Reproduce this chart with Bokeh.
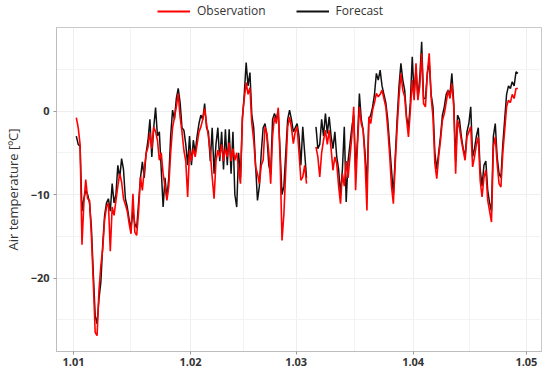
import numpy as np
from bokeh.plotting import figure
from bokeh.layouts import column
from bokeh.models import Range1d, FixedTicker, Legend, LegendItem, ColumnDataSource
from bokeh.embed import file_html
from bokeh.resources import INLINE

nan = float("nan")

# time axis: days since 1 January, one value every 12 hours
start_day = 0.75
step_day = 0.5

observation = [
    -0.8, -2.0, -4.0, -16.0, -11.0, -8.2, -10.5, -10.7, -15.0, -20.5,
    -26.5, -26.9, -21.5, -18.5, -16.5, -13.0, -11.5, -11.0, -16.8, -11.5,
    -12.5, -10.7, -9.0, -7.5, -8.5, -10.5, -11.2, -12.0, -13.5, -14.7,
    -9.9, -14.5, -14.9, -12.0, -7.9, -9.5, -7.0, -5.1, -4.3, -2.6,
    -4.5, -1.9, -2.5, -3.5, -5.9, -5.0, -7.5, -9.0, -10.7, -9.0,
    -5.0, -2.0, -0.8, 0.5, 2.1, -0.7, -2.5, -4.7, -6.0, -10.3,
    -4.7, -6.0, -4.5, -5.5, -4.0, -2.5, -1.9, -1.0, 0.3, -1.5,
    -3.1, -5.0, -7.9, -10.5, -6.0, -4.7, -5.5, -4.0, -6.0, -4.5,
    -5.5, -3.8, -6.0, -4.5, -5.9, -5.0, -7.0, -8.7, -0.7, 1.5,
    3.4, 2.0, 2.8, -1.5, -3.5, -6.7, -7.5, -8.7, -6.5, -5.9,
    -1.9, -2.7, -5.0, -8.7, -3.0, -0.7, -1.5, 0.4, -5.9, -15.5,
    -12.3, -7.0, -1.9, -0.7, -2.0, -3.9, -2.5, -1.9, -5.0, -8.3,
    -7.9, -6.5, -8.7, nan, nan, nan, nan, -4.3, -5.5, -7.9,
    -5.0, -3.5, -2.3, -4.0, -2.3, -4.5, -7.1, -5.5, -6.3, -9.0,
    -11.1, -7.5, -9.0, -6.0, -8.0, -5.5, -3.0, 0.5, -9.5, -4.0,
    0.5, -1.5, -2.3, -6.0, -11.9, -0.7, -1.5, 0.1, 1.0, 2.1,
    1.7, 2.0, 2.5, 1.5, 0.5, -2.0, -5.1, -9.0, -11.1, -6.3,
    -2.0, 1.7, 4.5, 2.5, 1.7, -1.0, -3.1, 0.1, 3.7, 1.3,
    5.7, 1.3, 3.0, 6.9, 0.9, 0.5, 4.5, 6.9, 1.7, -0.7,
    -6.3, -8.1, -5.5, -3.5, -1.1, -0.3, 1.0, 2.5, 1.5, 3.3,
    0.5, -7.5, -1.1, -2.0, -3.5, -4.7, -5.9, -3.1, -2.5, -1.9,
    -6.7, -5.5, -4.0, -3.1, -8.3, -10.3, -8.0, -7.1, -10.7, -12.0,
    -13.3, -4.3, -3.1, -6.3, -8.7, -9.1, -5.0, -2.3, 0.5, 1.3,
    1.0, 2.0, 1.5, 2.7, 2.7,
]

forecast = [
    -3.0, -4.0, -4.2, -12.0, -10.5, -9.5, -10.0, -11.0, -14.0, -19.5,
    -24.5, -25.5, -22.5, -20.5, -16.0, -12.5, -11.0, -10.5, -12.0, -8.7,
    -11.0, -10.0, -6.5, -8.0, -5.7, -7.0, -10.5, -11.5, -13.0, -14.0,
    -12.0, -13.5, -14.0, -11.0, -8.0, -6.1, -8.0, -5.0, -3.5, -1.0,
    -5.5, -2.0, 0.4, -3.0, -2.5, -7.0, -11.5, -8.0, -10.5, -8.0,
    -3.0, 0.1, -1.0, 1.5, 2.7, 1.0, -2.0, -2.3, -4.0, -6.5,
    -3.0, -6.5, -3.5, -5.0, -3.0, -1.5, -0.5, -1.0, 0.9, -2.0,
    -2.5, -6.0, -2.0, -7.5, -4.0, -2.0, -6.0, -2.5, -7.0, -2.2,
    -6.5, -2.2, -7.5, -2.5, -10.0, -11.5, -5.0, -8.0, -1.0, 2.0,
    5.8, 3.0, 4.6, -0.5, -2.0, -6.5, -10.7, -9.0, -5.0, -2.0,
    -1.5, -3.0, -6.5, -7.5, -1.0, -0.3, -1.0, 0.1, -5.0, -10.0,
    -9.0, -5.0, -1.0, 0.1, -1.0, -2.5, -2.0, -1.5, -3.0, -6.5,
    -1.9, -5.0, -8.0, nan, nan, nan, nan, -1.9, -4.5, -4.0,
    -1.0, -3.0, -0.3, -2.7, -0.7, -3.0, -4.5, -2.5, -5.5, -7.0,
    -10.0, -7.0, -1.9, -10.9, -6.0, -4.0, -2.0, -0.5, -7.0, -3.5,
    2.1, -1.0, -2.3, -5.0, -9.0, -1.0, -0.5, 0.5, 2.0, 4.5,
    3.7, 4.9, 3.0, 2.0, 1.0, -1.0, -4.0, -7.0, -10.0, -5.5,
    -1.0, 3.0, 5.7, 3.7, 2.5, -0.7, -2.0, 1.0, 6.5, 2.0,
    5.0, 1.5, 4.0, 8.3, 1.5, 1.5, 4.5, 6.0, 2.0, 0.5,
    -5.0, -7.0, -5.0, -3.0, -0.5, 0.5, 2.0, 2.5, 2.0, 4.5,
    1.0, -6.0, -0.5, -1.0, -3.0, -4.5, -5.5, -2.5, -1.5, 0.5,
    -5.5, -4.5, -3.0, -2.0, -7.0, -9.0, -6.5, -6.0, -9.5, -11.0,
    -12.0, -3.0, -1.5, -5.5, -7.5, -8.0, -4.0, -1.0, 2.0, 3.0,
    2.7, 3.5, 3.0, 4.7, 4.5,
]

series_names = ["Observation", "Forecast"]
series_colors = ["#ff0000", "#111111"]

tick_days = [0, 31, 59, 90, 120]
tick_labels = ["1.01", "1.02", "1.03", "1.04", "1.05"]
mid_month_days = [15, 45, 74.5, 105]
y_ticks = [-20, -10, 0]
y_minor = [-25, -15, -5, 5]

days = np.array([start_day + step_day * i for i in range(len(observation))])
src = ColumnDataSource(dict(day=days,
                            obs=np.array(observation, dtype=float),
                            fc=np.array(forecast, dtype=float)))

FONT = "Open Sans"
W = 542

# ---- legend strip (its renderers sit outside the strip's visible range) ---
lg = figure(width=W, height=20, output_backend="svg", toolbar_location=None,
            x_axis_type=None, y_axis_type=None,
            x_range=Range1d(1000, 1001), y_range=Range1d(1000, 1001))
lg.min_border = 0
lg.outline_line_color = None
lg.grid.visible = False
lg_r = [lg.line("day", col, source=src, line_color=c, line_width=2)
        for col, c in zip(["obs", "fc"], series_colors)]
legend = Legend(items=[LegendItem(label=n, renderers=[r])
                       for n, r in zip(series_names, lg_r)],
                orientation="horizontal", location=(101, 1))
legend.label_text_font = FONT
legend.label_text_font_size = "12px"
legend.label_text_color = "#333333"
legend.glyph_width = 33
legend.glyph_height = 14
legend.label_height = 14
legend.label_standoff = 7
legend.spacing = 30
legend.padding = 1
legend.margin = 0
legend.border_line_color = None
legend.background_fill_alpha = 0
lg.add_layout(legend, "center")

# ---- main chart ---------------------------------------------------------
p = figure(width=W, height=348, output_backend="svg", toolbar_location=None,
           x_range=Range1d(-4.5, 124.0), y_range=Range1d(-28.8, 10.0))
p.min_border_left = 42
p.min_border_right = 1
p.min_border_top = 7
p.min_border_bottom = 0
p.background_fill_color = "white"
p.border_fill_color = "white"
p.outline_line_color = "#c8c8c8"

p.line("day", "fc", source=src, line_color=series_colors[1], line_width=1.5)
p.line("day", "obs", source=src, line_color=series_colors[0], line_width=1.6)

p.xaxis.ticker = FixedTicker(ticks=tick_days, minor_ticks=mid_month_days)
p.xaxis.major_label_overrides = {d: l for d, l in zip(tick_days, tick_labels)}
p.yaxis.ticker = FixedTicker(ticks=y_ticks, minor_ticks=y_minor)

for ax in (p.xaxis[0], p.yaxis[0]):
    ax.axis_line_color = "#bdbdbd"
    ax.major_tick_line_color = "#9a9a9a"
    ax.major_tick_out = 3
    ax.major_tick_in = 0
    ax.minor_tick_line_color = None
    ax.major_label_text_font = FONT
    ax.major_label_text_font_size = "11px"
    ax.major_label_text_color = "#333333"
    ax.major_label_text_font_style = "bold"
    ax.major_label_standoff = 3
p.xaxis.major_label_standoff = 2

p.yaxis.axis_label = "Air temperature [ºC]"
p.yaxis.axis_label_text_font = FONT
p.yaxis.axis_label_text_font_size = "13px"
p.yaxis.axis_label_text_font_style = "normal"
p.yaxis.axis_label_text_color = "#333333"
p.yaxis.axis_label_standoff = 6

for g in (p.xgrid[0], p.ygrid[0]):
    g.grid_line_color = "#efefef"
    g.minor_grid_line_color = "#f3f3f3"

layout = column(lg, p, spacing=0)
open("out.html", "w").write(file_html(layout, INLINE))
